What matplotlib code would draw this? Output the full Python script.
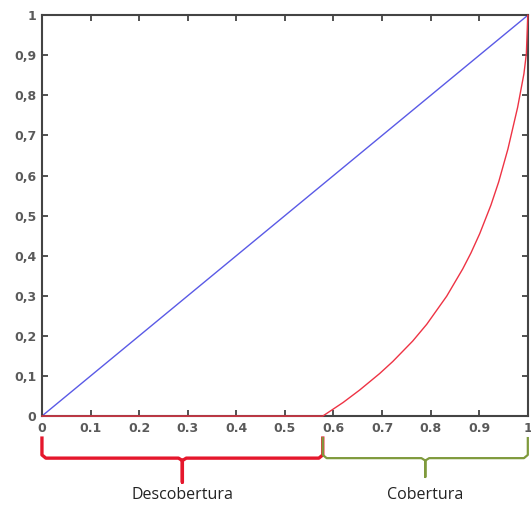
import numpy as np
import matplotlib.pyplot as plt
import matplotlib.transforms as mtransforms

# diagonal (reference line)
x_diag = [0.0, 1.0]
y_diag = [0.0, 1.0]

# red curve
x_red = [0.0, 0.578, 0.620, 0.654, 0.695, 0.722, 0.763, 0.792, 0.833, 0.866, 0.883,
         0.901, 0.924, 0.940, 0.959, 0.979, 0.992, 0.997, 1.0]
y_red = [0.0, 0.0, 0.034, 0.065, 0.106, 0.136, 0.187, 0.229, 0.299, 0.367, 0.407,
         0.455, 0.526, 0.584, 0.666, 0.770, 0.854, 0.904, 1.0]

split = 0.578
labels = ['Descobertura', 'Cobertura']

ticks = [0, 0.1, 0.2, 0.3, 0.4, 0.5, 0.6, 0.7, 0.8, 0.9, 1]
xtick_labels = ['0', '0.1', '0.2', '0.3', '0.4', '0.5', '0.6', '0.7', '0.8', '0.9', '1']
ytick_labels = ['0', '0,1', '0,2', '0,3', '0,4', '0,5', '0,6', '0,7', '0,8', '0,9', '1']

fig = plt.figure(figsize=(5.31, 5.08), dpi=100)
ax = fig.add_axes([0.079, 0.181, 0.915, 0.789])

ax.plot(x_diag, y_diag, color='#5a5ae6', lw=1.0)
ax.plot(x_red, y_red, color='#ee3344', lw=1.0, clip_on=False, zorder=3,
        solid_joinstyle='round')

ax.set_xlim(0, 1)
ax.set_ylim(0, 1)
ax.set_xticks(ticks)
ax.set_yticks(ticks)
ax.set_xticklabels(xtick_labels)
ax.set_yticklabels(ytick_labels)
ax.tick_params(direction='in', top=True, right=True, length=4, width=1.2,
               color='#333333', labelcolor='#5a5a5a', labelsize=9, pad=4)
for lab in ax.get_xticklabels() + ax.get_yticklabels():
    lab.set_fontweight('bold')
for s in ax.spines.values():
    s.set_color('#444444')
    s.set_linewidth(1.5)

# braces below the x axis
tr = mtransforms.blended_transform_factory(ax.transData, ax.transAxes)
y_tip = -0.055
y_bar = -0.105
r = 0.008
def brace(x0, x1, y_end, color, lw):
    xm = (x0 + x1) / 2
    xs = [x0, x0, x0 + r, xm - r, xm, xm, xm, xm + r, x1 - r, x1, x1]
    ys = [y_tip, y_bar + 0.008, y_bar, y_bar, y_bar - 0.006, y_end, y_bar - 0.006, y_bar, y_bar, y_bar + 0.008, y_tip]
    ax.plot(xs, ys, color=color, lw=lw, transform=tr, clip_on=False, solid_joinstyle='round')
    return xm

xm1 = brace(0.0, split, -0.165, '#e5172c', 2.4)
xm2 = brace(split, 1.0, -0.152, '#7f9a3c', 1.6)

ax.text(xm1, -0.197, labels[0], transform=tr, ha='center', va='center',
        fontsize=11.5, family='Open Sans', color='#222222')
ax.text(xm2, -0.197, labels[1], transform=tr, ha='center', va='center',
        fontsize=11.5, family='Open Sans', color='#222222')

fig.savefig('out.png', dpi=100)
